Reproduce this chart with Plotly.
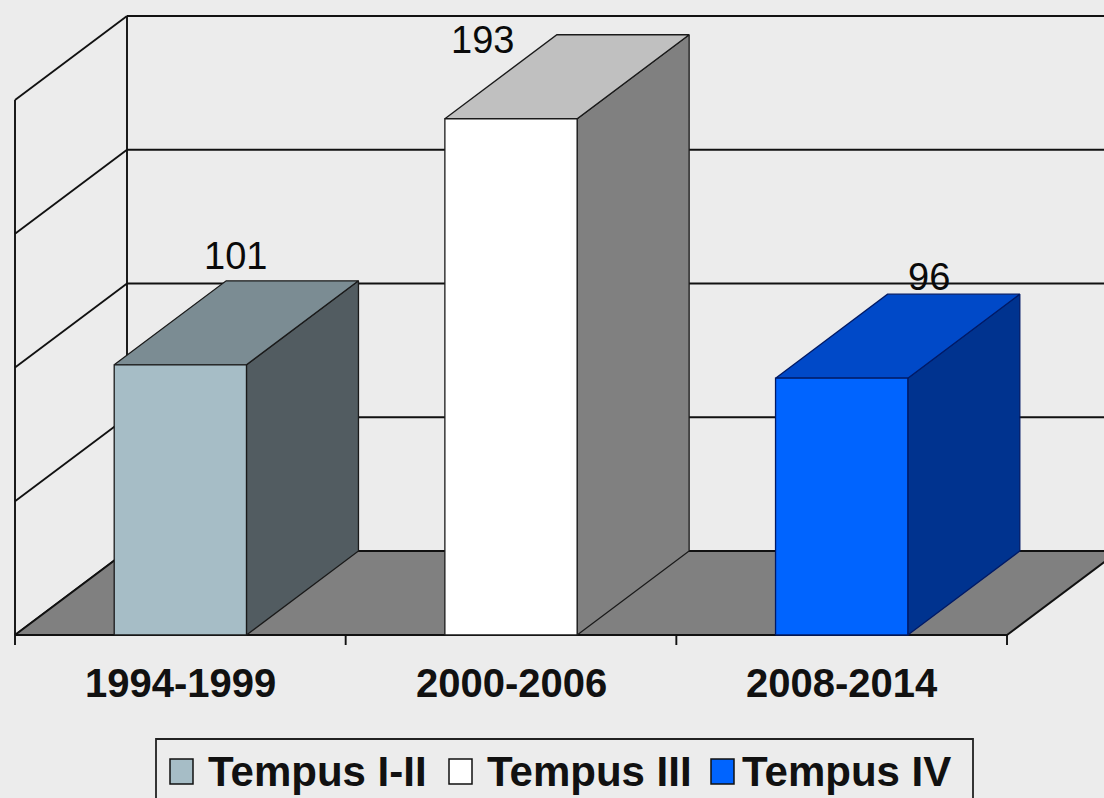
import plotly.graph_objects as go

# ---------------- data ----------------
categories = ["1994-1999", "2000-2006", "2008-2014"]
series_names = ["Tempus I-II", "Tempus III", "Tempus IV"]
values = [101, 193, 96]
value_labels = ["101", "193", "96"]
grid_values = [0, 50, 100, 150, 200]

# ---------------- style / geometry ----------------
W, H = 1104, 798
BG = "#ececec"
FONT = "Arial, Liberation Sans, sans-serif"
X0_PX, CAT_PX = 15.0, 330.67        # pixel of category 0 and pixel width of one category
BASE_PX, UNIT_PX = 635.0, 2.675     # pixel of value 0 and pixels per value unit
DEPTH_DX_PX, DEPTH_DY_PX = 112.0, 84.0
TICK_PX = 10.0
BAR_PAD = 0.3                       # gap on each side of a bar (category units)
front_colors = ["#a6bdc6", "#ffffff", "#0064ff"]
top_colors = ["#7b8c93", "#c0c0c0", "#0049c8"]
side_colors = ["#525c61", "#808080", "#00338f"]
edge_colors = ["#1a1a1a", "#1a1a1a", "#001a66"]
label_shift = [(55, 109), (-29, 79), (87, 101)]   # pixel offsets of value labels
LINE = "#111111"

DX = DEPTH_DX_PX / CAT_PX
DY = DEPTH_DY_PX / UNIT_PX
n = len(categories)
xr = [(0 - X0_PX) / CAT_PX, (W - X0_PX) / CAT_PX]
yr = [(BASE_PX - H) / UNIT_PX, BASE_PX / UNIT_PX]
ymax = max(grid_values)

fig = go.Figure()


def poly(xs, ys, fill, line=LINE, width=1.3):
    fig.add_trace(go.Scatter(
        x=list(xs) + [xs[0]], y=list(ys) + [ys[0]], mode="lines",
        fill="toself", fillcolor=fill, line=dict(color=line, width=width),
        hoverinfo="skip", showlegend=False))


def seg(xs, ys, width=1.9, color=LINE):
    fig.add_trace(go.Scatter(
        x=xs, y=ys, mode="lines", line=dict(color=color, width=width),
        hoverinfo="skip", showlegend=False))


# back wall gridlines
far = xr[1] + 0.2
for g in grid_values:
    seg([DX, far], [g + DY, g + DY])
# back wall left edge
seg([DX, DX], [DY, ymax + DY])
# left wall
seg([0, 0], [0, ymax])
for g in grid_values:
    seg([0, DX], [g, g + DY])

# floor
poly([0, n, n + DX, DX], [0, 0, DY, DY], "#808080", width=1.9)

# bars
for i, v in enumerate(values):
    xl, xh = i + BAR_PAD, i + 1 - BAR_PAD
    ec = edge_colors[i]
    # right side face
    poly([xh, xh + DX, xh + DX, xh], [0, DY, v + DY, v], side_colors[i], line=ec)
    # top face
    poly([xl, xh, xh + DX, xl + DX], [v, v, v + DY, v + DY], top_colors[i], line=ec)
    # front face
    poly([xl, xh, xh, xl], [0, 0, v, v], front_colors[i], line=ec)

# x-axis tick marks
for c in range(n + 1):
    seg([c, c], [0, -TICK_PX / UNIT_PX], width=1.9)

annotations = []
# value labels
for i, v in enumerate(values):
    sx, sy = label_shift[i]
    annotations.append(dict(
        x=i + 0.5, y=v, xref="x", yref="y", text=value_labels[i], showarrow=False,
        xshift=sx, yshift=sy, xanchor="center", yanchor="middle",
        font=dict(family=FONT, size=38, color="#0a0a0a")))
# category labels
for i, c in enumerate(categories):
    annotations.append(dict(
        x=i + 0.5, y=0, xref="x", yref="y", text="<b>" + c + "</b>", showarrow=False,
        yshift=-48, xanchor="center", yanchor="middle",
        font=dict(family=FONT, size=40, color="#111111")))

# legend (manual)
shapes = []
LEG_BOX = (156, 739, 973, 805)
shapes.append(dict(type="rect", xref="paper", yref="paper",
                   x0=LEG_BOX[0] / W, x1=LEG_BOX[2] / W,
                   y0=1 - LEG_BOX[3] / H, y1=1 - LEG_BOX[1] / H,
                   line=dict(color="#222222", width=1.8), fillcolor="rgba(0,0,0,0)"))
leg_marker_x = [170, 449, 711]
leg_text_x = [206, 485, 740]
for i, name in enumerate(series_names):
    mx = leg_marker_x[i]
    shapes.append(dict(type="rect", xref="paper", yref="paper",
                       x0=mx / W, x1=(mx + 23) / W, y0=1 - 784 / H, y1=1 - 759 / H,
                       line=dict(color="#111111", width=1.5), fillcolor=front_colors[i]))
    annotations.append(dict(
        x=leg_text_x[i] / W, y=1 - 771.5 / H, xref="paper", yref="paper",
        text="<b>" + name + "</b>", showarrow=False, xanchor="left", yanchor="middle",
        font=dict(family=FONT, size=42, color="#111111")))

fig.update_layout(
    width=W, height=H, margin=dict(l=0, r=0, t=0, b=0),
    paper_bgcolor=BG, plot_bgcolor=BG, showlegend=False,
    xaxis=dict(range=xr, visible=False, fixedrange=True),
    yaxis=dict(range=yr, visible=False, fixedrange=True),
    annotations=annotations, shapes=shapes,
)

fig.write_html(
    "out.html",
    config={"displayModeBar": False, "staticPlot": True},
    post_script="document.body.style.margin='0';document.body.style.overflow='hidden';",
)
